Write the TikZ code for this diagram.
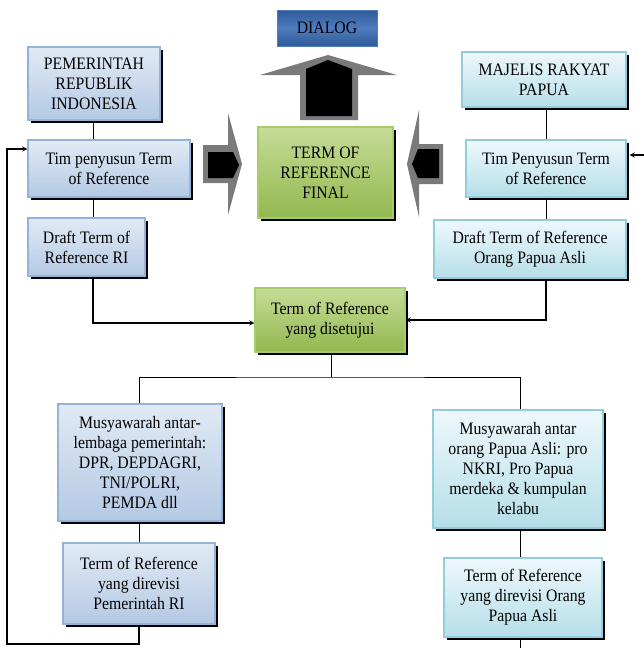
\documentclass[tikz,border=0pt]{standalone}
\usepackage{fontspec}
\setmainfont{Liberation Serif}[FakeStretch=0.9]
\usetikzlibrary{shadows}
\definecolor{blueTop}{HTML}{E1EAF5}
\definecolor{blueBot}{HTML}{B4C9E4}
\definecolor{blueLine}{HTML}{95B3D7}
\definecolor{cyanTop}{HTML}{EEF8FB}
\definecolor{cyanBot}{HTML}{B5DEE9}
\definecolor{cyanLine}{HTML}{93CDDD}
\definecolor{greenTop}{HTML}{C6DC98}
\definecolor{greenBot}{HTML}{92B84E}
\definecolor{greenLine}{HTML}{A9CC6A}
\definecolor{dlgDark}{HTML}{2F5A97}
\definecolor{dlgLight}{HTML}{4F7CBE}
\definecolor{arrowGray}{HTML}{7A7A7A}

\begin{document}
\begin{tikzpicture}[x=1pt,y=-1pt,>=stealth,thick,
    every node/.style={font=\fontsize{17.5}{20}\selectfont,align=center,inner sep=0pt},
    box/.style={rectangle,line width=1.2pt,drop shadow={shadow xshift=3pt,shadow yshift=-3pt,fill=black,opacity=1}},
    ri box/.style={box,draw=blueLine,top color=blueTop,bottom color=blueBot},
    opa box/.style={box,draw=cyanLine,top color=cyanTop,bottom color=cyanBot},
    tor box/.style={box,draw=greenLine,top color=greenTop,bottom color=greenBot},
    bigarrow/.style={fill=arrowGray,draw=none},
    link/.style={line width=1pt},
    arrowlink/.style={line width=1.3pt,->}]

    \useasboundingbox (0,0) rectangle (644,648);

    % big arrows towards final TOR and dialog
    \fill[bigarrow] (260,75) -- (328,55) -- (397,75) -- (358,75) -- (358,120) -- (300,120) -- (300,75) -- cycle;
    \fill (306,116) -- (306,69) -- (328,60) -- (352,69) -- (352,116) -- cycle;
    \fill[bigarrow] (203,145) -- (228,145) -- (228,113) -- (242,164) -- (228,215) -- (228,183) -- (203,183) -- cycle;
    \fill (208,152) -- (233,152) -- (239,165) -- (233,178) -- (208,178) -- cycle;
    \fill[bigarrow] (443,144) -- (419,144) -- (419,110) -- (407,164) -- (419,217) -- (419,184) -- (443,184) -- cycle;
    \fill (439,149) -- (418,149) -- (412,164) -- (418,178) -- (439,178) -- cycle;

    \node[draw=dlgLight,line width=1pt,top color=dlgDark,bottom color=dlgDark,middle color=dlgLight,
          minimum width=100,minimum height=36] (dialog) at (327,28) {DIALOG};

    % pemerintah RI
    \node[ri box,minimum width=132,minimum height=73] (pemri) at (94,83.5) {PEMERINTAH\\REPUBLIK\\INDONESIA};
    \node[ri box,minimum width=162,minimum height=57] (timri) at (109,168.5) {Tim penyusun Term\\of Reference};
    \node[ri box,minimum width=117,minimum height=58] (draftri) at (86.5,247) {Draft Term of\\Reference RI};

    % majelis rakyat papua
    \node[opa box,minimum width=164,minimum height=55] (mrp) at (544,79.5) {MAJELIS RAKYAT\\PAPUA};
    \node[opa box,minimum width=160,minimum height=57] (timmrp) at (546,168.5) {Tim Penyusun Term\\of Reference};
    \node[opa box,minimum width=192,minimum height=58] (draftmrp) at (530,249) {Draft Term of Reference\\Orang Papua Asli};

    \node[tor box,minimum width=135,minimum height=91] (torfinal) at (325.5,172.5) {TERM OF\\REFERENCE\\FINAL};
    \node[tor box,minimum width=150,minimum height=64] (torsetuju) at (330,320) {Term of Reference\\yang disetujui};

    \node[ri box,minimum width=164,minimum height=117] (musri) at (140,462.5) {Musyawarah antar-\\lembaga pemerintah:\\DPR, DEPDAGRI,\\TNI/POLRI,\\PEMDA dll};
    \node[ri box,minimum width=152,minimum height=81] (revri) at (139,583.5) {Term of Reference\\yang direvisi\\Pemerintah RI};

    \node[opa box,minimum width=170,minimum height=118] (musopa) at (518,469) {Musyawarah antar\\orang Papua Asli: pro\\NKRI, Pro Papua\\merdeka \& kumpulan\\kelabu};
    \node[opa box,minimum width=158,minimum height=79] (revopa) at (523,597.5) {Term of Reference\\yang direvisi Orang\\Papua Asli};

    \coordinate (split) at (331,377);
    \coordinate (loopri) at (7,644);
    \coordinate (inmrp) at (644,155);
    \coordinate (endopa) at (520,648);

    % connectors
    \draw[link] (pemri.south -| 93,0) -- (timri.north -| 93,0);
    \draw[link] (timri.south -| 93,0) -- (draftri.north -| 93,0);
    \draw[arrowlink] (draftri.south -| 93,0) |- ([yshift=-3pt]torsetuju.west);
    \draw[link] (mrp.south -| timmrp) -- (timmrp.north);
    \draw[link] (timmrp.south) -- (draftmrp.north -| timmrp);
    \draw[arrowlink] (draftmrp.south -| timmrp) |- (torsetuju.east);
    \draw[link] (torsetuju.south -| split) -- (split);
    \draw[link] (musri.north -| 139,0) |- (split) -| (musopa.north -| endopa);
    \draw[link] (musri.south -| 139,0) -- (revri.north -| 139,0);
    \draw[arrowlink] (revri.south -| 139,0) |- (loopri) |- ([yshift=19.5pt]timri.west);
    \draw[link] (musopa.south -| endopa) -- (revopa.north -| endopa);
    \draw[link] (revopa.south -| endopa) -- (endopa);
    \draw[arrowlink] (inmrp) -- ([xshift=3pt,yshift=13.5pt]timmrp.east);
\end{tikzpicture}
\end{document}
